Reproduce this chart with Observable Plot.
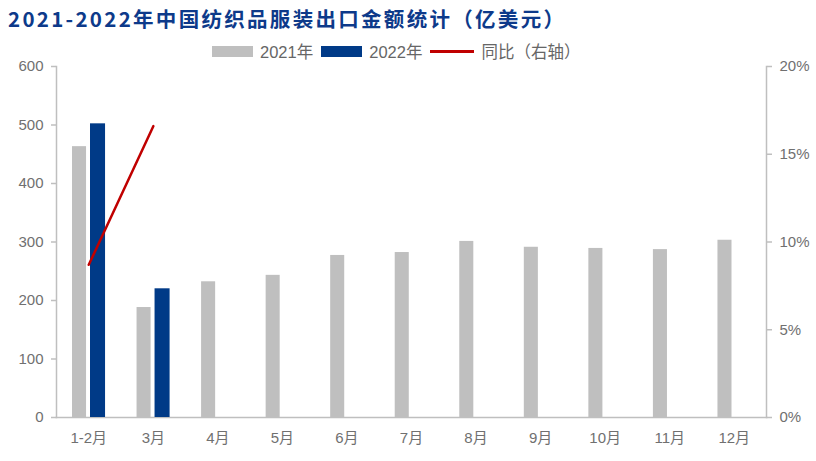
<!DOCTYPE html>
<html>
<head>
<meta charset="utf-8">
<script src="https://cdn.jsdelivr.net/npm/d3@7"></script>
<script src="https://cdn.jsdelivr.net/npm/@observablehq/plot@0.6"></script>
<style>
  body { margin: 0; background: #fff; }
  #wrap { position: relative; width: 816px; height: 461px; font-family: "Liberation Sans", "Noto Sans CJK SC", sans-serif; }
  #title { height: 36px; line-height: 36px; padding-left: 8px; font-family: "Noto Sans CJK SC", sans-serif; font-weight: bold; font-size: 20.5px; letter-spacing: 2.3px; color: #0d3a8a; white-space: nowrap; }
  #legend { position: absolute; top: 40px; left: 212px; height: 22px; display: flex; align-items: center; font-size: 16.5px; color: #666; white-space: nowrap; }
  .sw { display: inline-block; width: 41px; height: 11px; margin-right: 7px; }
  .ln { display: inline-block; width: 44px; height: 3px; margin-right: 7px; background: #c00000; }
  .item { display: flex; align-items: center; margin-right: 8px; }
  svg { display: block; }
</style>
</head>
<body>
<div id="wrap">
  <div id="title">2021-2022年中国纺织品服装出口金额统计（亿美元）</div>
  <div id="chart"></div>
  <div id="legend"></div>
</div>
<script>
const months = ["1-2月","3月","4月","5月","6月","7月","8月","9月","10月","11月","12月"];
const v2021 = [463, 188, 232, 243, 277, 282, 301, 291, 289, 287, 303];
const v2022 = [502, 220];
const yoy = [8.7, 16.6];
const leftTicks = [0, 100, 200, 300, 400, 500, 600];
const rightTicks = [0, 5, 10, 15, 20];
const seriesNames = ["2021年", "2022年", "同比（右轴）"];
const colors = ["#bfbfbf", "#003a87", "#c00000"];

const ratio = 600 / 20;
const d21 = months.map((m, i) => ({m, v: v2021[i]}));
const d22 = v2022.map((v, i) => ({m: months[i], v}));
const dy = yoy.map((p, i) => ({m: months[i], p}));

const lg = document.getElementById("legend");
lg.innerHTML =
  `<span class="item"><span class="sw" style="background:${colors[0]}"></span>${seriesNames[0]}</span>` +
  `<span class="item"><span class="sw" style="background:${colors[1]}"></span>${seriesNames[1]}</span>` +
  `<span class="item"><span class="ln"></span>${seriesNames[2]}</span>`;

const chart = Plot.plot({
  width: 816,
  height: 425,
  marginTop: 30,
  marginBottom: 44,
  marginLeft: 56,
  marginRight: 50,
  style: {fontSize: "15px", fontFamily: "'Liberation Sans', 'Noto Sans CJK SC', sans-serif", color: "#707070", overflow: "visible"},
  x: {domain: months, padding: 0, round: false, label: null},
  y: {domain: [0, 600], label: null},
  marks: [
    Plot.frame({anchor: "left", stroke: "#bfbfbf", strokeWidth: 1.5}),
    Plot.frame({anchor: "right", stroke: "#bfbfbf", strokeWidth: 1.5}),
    Plot.frame({anchor: "bottom", stroke: "#bfbfbf", strokeWidth: 1.5}),
    Plot.barY(d21, {x: "m", y: "v", fill: colors[0], insetLeft: 16, insetRight: 34.5}),
    Plot.barY(d22, {x: "m", y: "v", fill: colors[1], insetLeft: 34, insetRight: 15.5}),
    Plot.line(dy, {x: "m", y: d => d.p * ratio, stroke: colors[2], strokeWidth: 2.5}),
    Plot.axisY({anchor: "left", ticks: leftTicks, tickSize: 5, tickPadding: 8, stroke: "#bfbfbf", fill: "#707070", strokeWidth: 1.5}),
    Plot.axisY({anchor: "right", ticks: rightTicks.map(t => t * ratio), tickFormat: d => Math.round(d / ratio) + "%", tickSize: 5, tickPadding: 8, stroke: "#bfbfbf", fill: "#707070", strokeWidth: 1.5}),
    Plot.axisX({tickSize: 0, tickPadding: 15, fill: "#707070"})
  ]
});
document.getElementById("chart").appendChild(chart);
</script>
</body>
</html>
